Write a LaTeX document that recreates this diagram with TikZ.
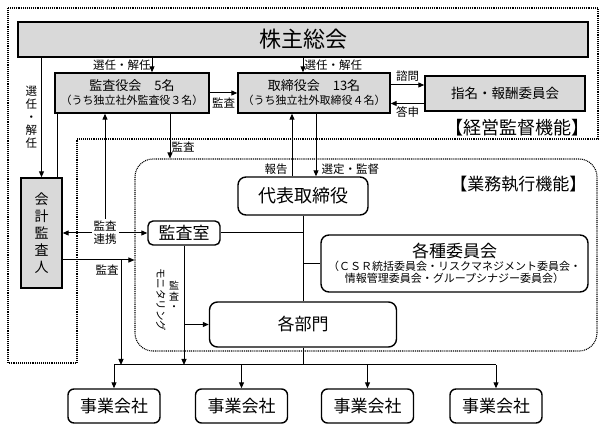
\documentclass[tikz,border=0pt]{standalone}
\usepackage{fontspec}
\setmainfont{Noto Sans CJK JP}
\usetikzlibrary{arrows.meta}

\begin{document}
\begin{tikzpicture}[x=1pt,y=-1pt,
  box/.style={draw,line width=1.4pt,inner sep=0pt,align=center},
  graybox/.style={box,fill=black!15},
  roundbox/.style={box,fill=white,rounded corners=6pt},
  conn/.style={line width=1pt},
  arr/.style={conn,-{Triangle[length=6pt,width=5pt]}},
  dotframe/.style={line width=1.1pt,dash pattern=on 1pt off 0.9pt},
  lbl/.style={font=\fontsize{11.5}{13}\selectfont,inner sep=1pt}]
\useasboundingbox (0,0) rectangle (606,430);

% frames
\draw[dotframe] (8,8) -- (598,8) -- (598,139) -- (77,139) -- (77,363) -- (8,363) -- cycle;
\node[draw,dotframe,rounded corners=18pt,minimum width=462pt,minimum height=192pt,inner sep=0pt] (gyomu) at (366,255) {};
\node[font=\fontsize{18}{19}\selectfont,anchor=east] (kantoku) at (593,128) {【経営監督機能】};
\node[font=\fontsize{17}{18}\selectfont,anchor=east] (shikko) at (590,184) {【業務執行機能】};

% supervision
\node[graybox,minimum width=570pt,minimum height=35pt,font=\fontsize{22}{24}\selectfont] (kabu) at (303,39.5) {株主総会};
\node[graybox,minimum width=154pt,minimum height=40pt,font=\fontsize{11}{14}\selectfont] (kansa) at (132,93)
  {{\fontsize{13}{15}\selectfont 監査役会　5名}\\（うち独立社外監査役３名）};
\node[graybox,minimum width=152pt,minimum height=40pt,font=\fontsize{11}{14}\selectfont] (tori) at (314,93)
  {{\fontsize{13}{15}\selectfont 取締役会　13名}\\（うち独立社外取締役４名）};
\node[graybox,minimum width=160pt,minimum height=35pt,font=\fontsize{13.5}{15}\selectfont] (shimei) at (505,93.5) {指名・報酬委員会};
\node[graybox,minimum width=41pt,minimum height=110pt,font=\fontsize{14}{17}\selectfont] (kaikei) at (41.5,233)
  {会\\計\\監\\査\\人};

% execution
\node[roundbox,rounded corners=8pt,minimum width=130pt,minimum height=38pt,font=\fontsize{18}{20}\selectfont] (daihyo) at (303,196) {代表取締役};
\node[roundbox,rounded corners=5pt,minimum width=72pt,minimum height=24pt,font=\fontsize{17}{18}\selectfont] (shitsu) at (184,233) {監査室};
\node[roundbox,rounded corners=8pt,minimum width=267pt,minimum height=57pt,font=\fontsize{11}{12.5}\selectfont] (iinkai) at (454.5,263.5)
  {{\fontsize{17}{19}\selectfont 各種委員会}\\（ＣＳＲ統括委員会・リスクマネジメント委員会・\\情報管理委員会・グループシナジー委員会）};
\node[roundbox,rounded corners=8pt,minimum width=187pt,minimum height=45pt,font=\fontsize{17}{18}\selectfont] (bumon) at (303,324.5) {各部門};
\foreach \i/\x in {1/114,2/241.5,3/367.5,4/496}
  \node[roundbox,minimum width=92pt,minimum height=34pt,font=\fontsize{17}{18}\selectfont] (jigyo\i) at (\x,406) {事業会社};

% connectors
\draw[arr] ([xshift=20pt]kansa.north |- kabu.south) -- ([xshift=20pt]kansa.north)
  node[lbl,midway,left] {選任・解任};
\draw[arr] ([xshift=-11pt]tori.north |- kabu.south) -- ([xshift=-11pt]tori.north)
  node[lbl,midway,right] {選任・解任};
\draw[arr] (kaikei.north |- kabu.south) -- (kaikei.north)
  node[lbl,midway,left,xshift=-3pt,align=center] {選\\任\\・\\解\\任};
\draw[arr] (kansa.east) -- (tori.west) node[lbl,midway,below,yshift=-3pt] {監査};
\draw[arr] ([yshift=8pt]tori.east) -- ([yshift=8pt]tori.east -| shimei.west) node[lbl,midway,above,yshift=2pt] {諮問};
\draw[arr] ([yshift=-10pt]shimei.west) -- ([yshift=-10pt]shimei.west -| tori.east) node[lbl,midway,below,yshift=-2pt] {答申};
\draw[conn] ([xshift=3pt]kansa.south west) -- ([xshift=3pt]kansa.south west |- kaikei.north);
\draw[conn,{Triangle[length=6pt,width=5pt]}-{Triangle[length=6pt,width=5pt]}] (kaikei.east) -- (shitsu.west)
  node[lbl,midway,fill=white,align=center,inner sep=2pt] (renkei) {監査\\連携};
\draw[arr] (renkei.north) -- (renkei.north |- kansa.south);
\draw[arr] ([xshift=38pt]kansa.south) -- ([xshift=38pt]kansa.south |- gyomu.north)
  node[lbl,pos=0.75,right] {監査};
\draw[arr] ([yshift=-27pt]kaikei.east) -- ([yshift=-27pt]kaikei.east -| gyomu.west)
  node[lbl,pos=0.62,below,yshift=-3pt] {監査};
\coordinate (ka) at (121,260);
\coordinate (bus) at (303,365);
\draw[arr] (ka) -- (ka |- bus);
\draw[arr] ([xshift=-11pt]daihyo.north) -- ([xshift=-11pt]daihyo.north |- tori.south)
  node[lbl,pos=0,anchor=south east,xshift=-3pt] {報告};
\draw[arr] ([xshift=13pt]daihyo.north |- tori.south) -- ([xshift=13pt]daihyo.north)
  node[lbl,pos=1,anchor=south west,xshift=4pt] {選定・監督};
\draw[conn] (shitsu.east) -- (shitsu.east -| daihyo.south);
\draw[conn] (daihyo.south) -- (bumon.north);
\draw[conn] (daihyo.south |- iinkai.west) -- (iinkai.west);
\draw[arr] (shitsu.south) -- (shitsu.south |- bus);
\draw[arr] (shitsu.south |- bumon.west) -- (bumon.west);
\node[font=\fontsize{10.5}{11}\selectfont,rotate=-90,inner sep=0pt] (monitor) at (161,300) {モニタリング};
\node[font=\fontsize{10}{10.5}\selectfont,align=center,inner sep=0pt] (kansa2) at (174,296) {監\\査\\・};
\draw[conn] (bumon.south) -- (bus);
\draw[conn] (jigyo1 |- bus) -- (jigyo4 |- bus);
\foreach \i in {1,...,4}
  \draw[arr] (jigyo\i |- bus) -- (jigyo\i.north);
\end{tikzpicture}
\end{document}
